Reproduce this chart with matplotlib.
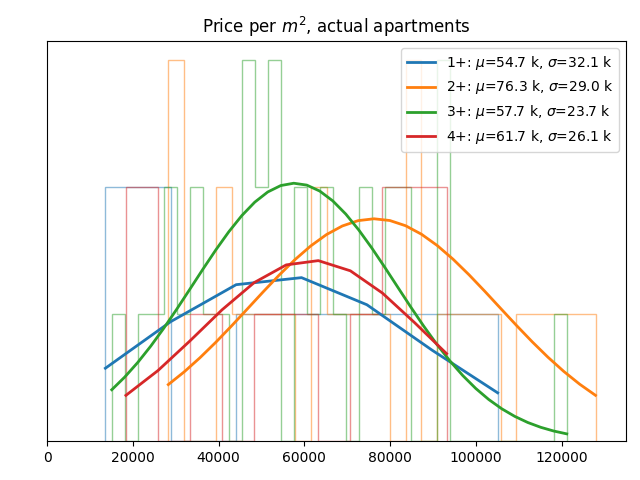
import numpy as np
from matplotlib import pyplot as plt

# 房型组 / 每组直方图计数 (bins = 样本数)
labels = ['1+', '2+', '3+', '4+']
mu = [54.7, 76.3, 57.7, 61.7]      # k
sigma = [32.1, 29.0, 23.7, 26.1]   # k
lo = [13610, 28280, 15100, 18400]
hi = [105080, 127890, 121190, 93170]
counts_1 = [2, 0, 1, 1, 1, 1]
counts_2 = [3, 0, 0, 2, 1, 1, 1, 1, 0, 2, 1, 1, 1, 1, 0, 3, 0, 1, 1, 1, 1, 0, 1, 1, 1, 1, 1]
counts_3 = [1, 0, 1, 1, 2, 1, 2, 1, 1, 0, 3, 2, 3, 0, 2, 1, 2, 1, 0, 2, 1, 2, 2, 0, 0, 3,
            0, 0, 0, 0, 0, 0, 0, 0, 1]
counts_4 = [2, 0, 1, 0, 1, 1, 0, 1, 2, 2]
# 拟合曲线高度 (计数单位)
peak = [1.30, 1.75, 2.03, 1.423]

all_counts = [counts_1, counts_2, counts_3, counts_4]
colors = ['C0', 'C1', 'C2', 'C3']

fig, ax = plt.subplots(figsize=(6.4, 4.8), dpi=100)
for i in range(4):
    edges = np.linspace(lo[i], hi[i], len(all_counts[i]) + 1)
    ax.stairs(all_counts[i], edges, color=colors[i], alpha=0.5, lw=1)
    z = (edges - mu[i] * 1000) / (sigma[i] * 1000)
    ax.plot(edges, peak[i] * np.exp(-0.5 * z ** 2), color=colors[i], lw=2,
            label=f'{labels[i]}: $\\mu$={mu[i]:.1f} k, $\\sigma$={sigma[i]:.1f} k')

ax.set_xlim(0, 135000)
ax.set_yticks([])
ax.set_title('Price per $m^2$, actual apartments')
ax.legend(loc='upper right')
fig.subplots_adjust(left=47 / 640, right=626 / 640, bottom=1 - 441 / 480, top=1 - 41 / 480)
plt.savefig('out.png')
